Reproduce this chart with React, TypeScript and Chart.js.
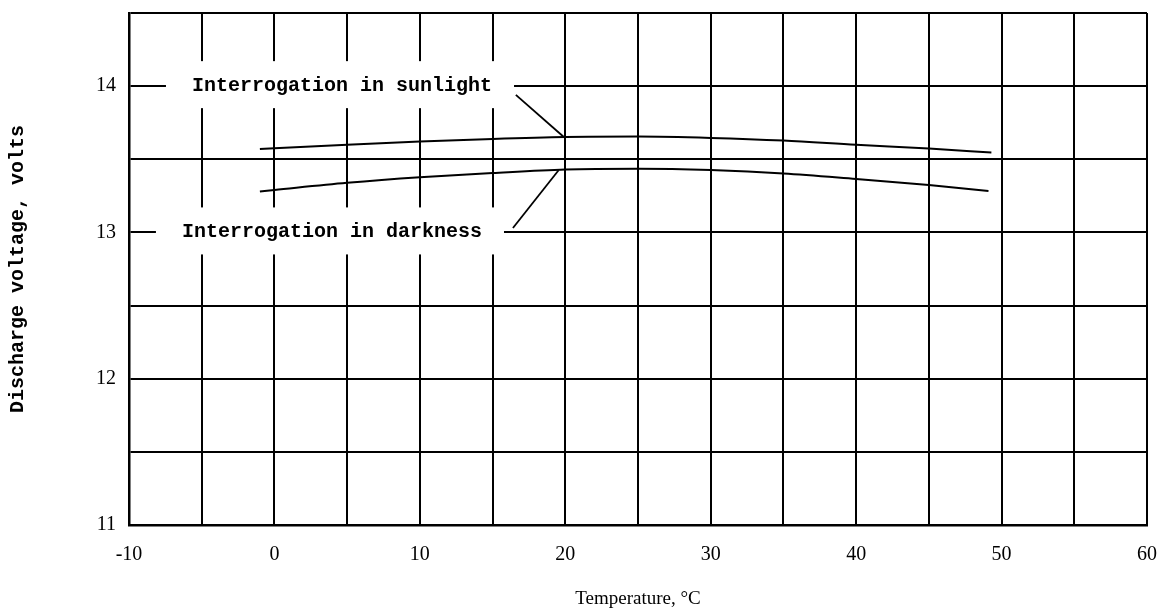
import React, { useEffect, useRef } from "react";
import { Chart, registerables } from "chart.js";

Chart.register(...registerables);

// Temperature (°C) and discharge voltage (volts)
const sunlightTemp = [-1, 0, 5, 10, 15, 20, 25, 30, 35, 40, 45, 49.3];
const sunlightVolt = [13.57, 13.576, 13.6, 13.621, 13.639, 13.652, 13.655, 13.646, 13.628, 13.599, 13.573, 13.546];
const darknessTemp = [-1, 0, 5, 10, 15, 20, 25, 30, 35, 40, 45, 49.1];
const darknessVolt = [13.28, 13.29, 13.339, 13.377, 13.406, 13.43, 13.435, 13.426, 13.403, 13.365, 13.324, 13.284];

// Leader lines from the labels to the curves
const sunLeaderTemp = [16.6, 19.9];
const sunLeaderVolt = [13.94, 13.652];
const darkLeaderTemp = [16.4, 19.54];
const darkLeaderVolt = [13.03, 13.425];

// Curve labels: text, left temperature, voltage
const labelTexts = ["Interrogation in sunlight", "Interrogation in darkness"];
const labelTemps = [-5.67, -6.36];
const labelVolts = [14, 13];

const xTickValues = [-10, 0, 10, 20, 30, 40, 50, 60];
const yTickValues = [11, 12, 13, 14];

const MONO = "'Liberation Mono', 'DejaVu Sans Mono', monospace";
const SERIF = "'Liberation Serif', 'DejaVu Serif', serif";

const toXY = (xs: number[], ys: number[]) => xs.map((x, i) => ({ x, y: ys[i] }));

const labelPlugin = {
  id: "curveLabels",
  beforeDatasetsDraw(chart: any) {
    const { ctx, scales } = chart;
    const xs = scales.x;
    const ys = scales.y;
    ctx.save();
    ctx.font = `bold 20px ${MONO}`;
    ctx.textBaseline = "middle";
    ctx.textAlign = "left";
    labelTexts.forEach((t, i) => {
      const px = xs.getPixelForValue(labelTemps[i]);
      const py = ys.getPixelForValue(labelVolts[i]);
      const w = ctx.measureText(t).width;
      ctx.fillStyle = "#ffffff";
      ctx.fillRect(px - 26, py - 25, w + 26 + 22, 47);
      ctx.fillStyle = "#000000";
      ctx.fillText(t, px, py);
    });
    ctx.restore();
  },
};

export default function App() {
  const ref = useRef<HTMLCanvasElement | null>(null);

  useEffect(() => {
    if (!ref.current) return;
    const lineStyle = {
      borderColor: "#000",
      borderWidth: 2,
      pointRadius: 0,
      fill: false,
    };
    const chart = new Chart(ref.current, {
      type: "line",
      data: {
        datasets: [
          { ...lineStyle, label: "Interrogation in sunlight", data: toXY(sunlightTemp, sunlightVolt), cubicInterpolationMode: "monotone" },
          { ...lineStyle, label: "Interrogation in darkness", data: toXY(darknessTemp, darknessVolt), cubicInterpolationMode: "monotone" },
          { ...lineStyle, label: "sun leader", data: toXY(sunLeaderTemp, sunLeaderVolt), tension: 0, borderWidth: 1.8 },
          { ...lineStyle, label: "dark leader", data: toXY(darkLeaderTemp, darkLeaderVolt), tension: 0, borderWidth: 1.8 },
        ] as any,
      },
      options: {
        animation: false,
        responsive: true,
        maintainAspectRatio: false,
        layout: { padding: { top: 13, right: 17, left: 0, bottom: 0 } },
        plugins: { legend: { display: false }, tooltip: { enabled: false } },
        scales: {
          x: {
            type: "linear",
            min: -10,
            max: 60,
            afterFit: (s: any) => {
              s.height = 89;
              s.paddingLeft = 0;
              s.paddingRight = 0;
            },
            ticks: {
              stepSize: 5,
              autoSkip: false,
              maxRotation: 0,
              padding: 18,
              color: "#000",
              font: { family: SERIF, size: 20 },
              callback: (v: any) => (xTickValues.includes(Number(v)) ? String(v) : ""),
            },
            grid: { color: "#000", lineWidth: 2, drawTicks: false },
            border: { color: "#000", width: 2.5 },
            title: {
              display: true,
              text: "Temperature, °C",
              color: "#000",
              font: { family: SERIF, size: 19 },
              padding: { top: 0, bottom: 4 },
            },
          },
          y: {
            type: "linear",
            min: 11,
            max: 14.5,
            afterFit: (s: any) => {
              s.width = 129;
              s.paddingTop = 0;
              s.paddingBottom = 0;
            },
            ticks: {
              stepSize: 0.5,
              autoSkip: false,
              padding: 13,
              color: "#000",
              font: { family: SERIF, size: 20 },
              callback: (v: any) => (yTickValues.includes(Number(v)) ? String(v) : ""),
            },
            grid: { color: "#000", lineWidth: 2, drawTicks: false },
            border: { color: "#000", width: 2.5 },
            title: {
              display: true,
              text: "Discharge voltage, volts",
              color: "#000",
              font: { family: MONO, size: 20, weight: "bold" },
              padding: { top: 6, bottom: 0 },
            },
          },
        },
      } as any,
      plugins: [labelPlugin],
    });
    return () => chart.destroy();
  }, []);

  return (
    <div style={{ position: "absolute", left: 0, top: 0, width: 1164, height: 614, background: "#fff" }}>
      <canvas ref={ref} />
    </div>
  );
}
